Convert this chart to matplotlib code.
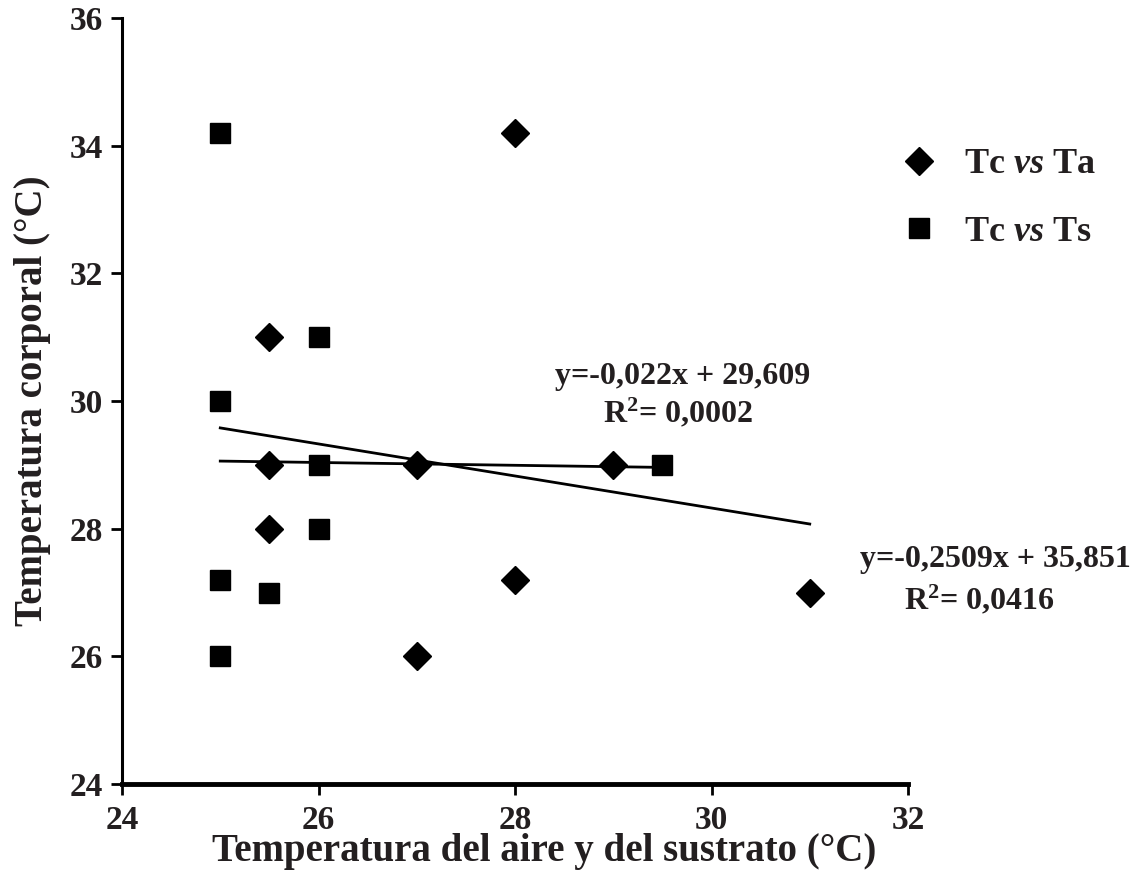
import numpy as np
import matplotlib.pyplot as plt

# Tc vs Ta (diamonds)
ta_x = [25.5, 25.5, 25.5, 27, 27, 28, 28, 29, 31]
ta_y = [31, 29, 28, 29, 26, 34.2, 27.2, 29, 27]
# Tc vs Ts (squares)
ts_x = [25, 25, 25, 25, 25.5, 26, 26, 26, 29.5]
ts_y = [34.2, 30, 27.2, 26, 27, 31, 29, 28, 29]

# trendline coefficients as printed on the chart
ta_m, ta_b = -0.2509, 35.851
ts_m, ts_b = -0.022, 29.609
ta_eq = ['y=-0,2509x + 35,851', 'R$^{2}$= 0,0416']
ts_eq = ['y=-0,022x + 29,609', 'R$^{2}$= 0,0002']

x_ticks = [24, 26, 28, 30, 32]
y_ticks = [24, 26, 28, 30, 32, 34, 36]

txt = '#231f20'
plt.rcParams['font.family'] = ['Liberation Serif', 'DejaVu Serif']
plt.rcParams['font.weight'] = 'bold'
plt.rcParams['mathtext.fontset'] = 'custom'
plt.rcParams['mathtext.rm'] = 'Liberation Serif:bold'
plt.rcParams['mathtext.it'] = 'Liberation Serif:italic:bold'

fig = plt.figure(figsize=(11.35, 8.77), dpi=100)
ax = fig.add_axes([0.1075, 0.106, 0.6925, 0.8735])

ax.plot(ta_x, ta_y, 'D', color='black', markersize=14.5, linestyle='none', label='Tc $\\it{vs}$ Ta')
ax.plot(ts_x, ts_y, 's', color='black', markersize=15, linestyle='none', label='Tc $\\it{vs}$ Ts')

x0 = min(min(ta_x), min(ts_x))
xl = np.array([x0, max(ta_x)])
ax.plot(xl, ta_m * xl + ta_b, color='black', lw=2)
xs = np.array([x0, max(ts_x)])
ax.plot(xs, ts_m * xs + ts_b, color='black', lw=2)

ax.set_xlim(24, 32)
ax.set_ylim(24, 36)
ax.set_xticks(x_ticks)
ax.set_yticks(y_ticks)

for side in ['top', 'right']:
    ax.spines[side].set_visible(False)
ax.spines['bottom'].set_linewidth(3.5)
ax.spines['left'].set_linewidth(2.2)
ax.tick_params(axis='both', direction='out', length=8, width=2, colors='black',
               labelsize=24, labelcolor=txt)
ax.tick_params(axis='x', pad=7)
ax.tick_params(axis='y', pad=6)

ax.set_xlabel('Temperatura del aire y del sustrato (°C)', fontsize=28, color=txt, fontweight='bold')
ax.set_ylabel('Temperatura corporal (°C)', fontsize=28, color=txt, fontweight='bold')
ax.xaxis.set_label_coords(0.537, -0.064)
ax.yaxis.set_label_coords(-0.09, 0.5)

ax.text(29.71, 30.38, ts_eq[0], fontsize=23, ha='center', va='center', color=txt)
ax.text(29.66, 29.81, ts_eq[1], fontsize=23, ha='center', va='center', color=txt)
ax.text(32.885, 27.51, ta_eq[0], fontsize=23, ha='center', va='center', color=txt, clip_on=False)
ax.text(32.73, 26.88, ta_eq[1], fontsize=23, ha='center', va='center', color=txt, clip_on=False)

leg = ax.legend(loc='upper left', bbox_to_anchor=(0.991, 0.83), frameon=False,
                fontsize=26, handletextpad=0.75, labelspacing=0.95, handlelength=1.0,
                borderaxespad=0, borderpad=0)
for t in leg.get_texts():
    t.set_color(txt)

fig.savefig('out.png', dpi=100)
